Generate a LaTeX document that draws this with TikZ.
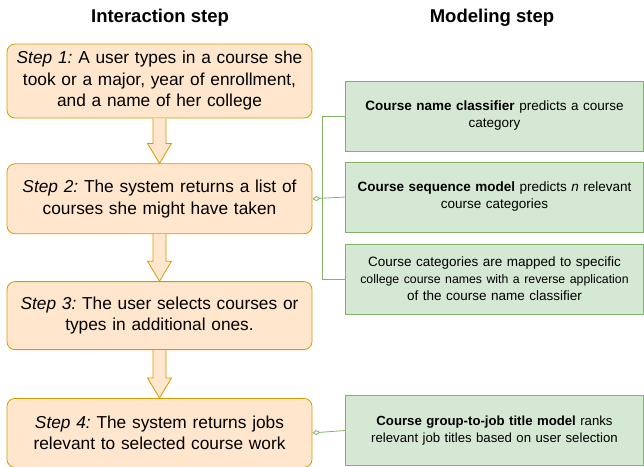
\documentclass[tikz,border=0pt]{standalone}
\usepackage{fontspec}
\setmainfont{Liberation Sans}
\usepackage{tikz}
\usetikzlibrary{positioning}
\usetikzlibrary{calc}
\usetikzlibrary{arrows.meta}
\frenchspacing

\definecolor{stepfill}{HTML}{FFE6CC}
\definecolor{stepline}{HTML}{D79B00}
\definecolor{modelfill}{HTML}{D5E8D4}
\definecolor{modelline}{HTML}{82B366}

\newcommand{\flowarrow}[2]{%
  \draw[stepline,fill=stepfill,line width=0.8pt,line join=miter]
    ($(#1.south)+(-6.5,0)$) -- ($(#2.north)+(-6.5,-20)$) -- ($(#2.north)+(-12,-20)$)
    -- (#2.north) -- ($(#2.north)+(12,-20)$) -- ($(#2.north)+(6.5,-20)$) -- ($(#1.south)+(6.5,0)$);}

\begin{document}
\begin{tikzpicture}[x=1pt,y=-1pt,
  stepbox/.style={draw=stepline,fill=stepfill,line width=0.8pt,rounded corners=8pt,
    minimum width=305pt,minimum height=70pt,text width=298pt,align=center,
    inner sep=0pt,font=\fontsize{17.3}{21.5}\selectfont},
  modelbox/.style={draw=modelline,fill=modelfill,line width=0.8pt,
    minimum width=298pt,minimum height=70pt,text width=298pt,align=center,
    inner sep=0pt,font=\fontsize{13.5}{17}\selectfont},
  headline/.style={font=\bfseries\fontsize{18.5}{20}\selectfont},
  link/.style={modelline,line width=0.8pt,{Diamond[open,length=8pt,width=5pt]}-}]
\useasboundingbox (0,0) rectangle (644,466);

\node[headline] (h1) at (160,18) {Interaction step};
\node[headline] (h2) at (492,18) {Modeling step};

\node[stepbox,minimum height=74pt] (s1) at (159.5,81)
  {\textit{Step 1:} A user types in a course she\\ took or a major, year of enrollment,\\ and a name of her college};
\node[stepbox]                  (s2) [below=45pt of s1]
  {\textit{Step 2:} The system returns a list of\\ courses she might have taken};
\node[stepbox,minimum height=68pt] (s3) [below=47pt of s2]
  {\textit{Step 3:} The user selects courses or\\ types in additional ones.};
\node[stepbox,minimum height=69pt] (s4) [below=48pt of s3]
  {\textit{Step 4:} The system returns jobs\\ relevant to selected course work};

\node[modelbox] (m1) at (494.5,116)
  {\textbf{Course name classifier} predicts a course\\ category};
\node[modelbox] (m2) at (494.5,197)
  {\textbf{Course sequence model} predicts \textit{n} relevant\\ course categories};
\node[modelbox] (m3) at (494.5,279)
  {Course categories are mapped to specific\\
   {\fontsize{12.3}{17}\selectfont college course names with a reverse application}\\
   of the course name classifier};
\node[modelbox,font=\fontsize{13.2}{17}\selectfont] (m4) at (494.5,430.5)
  {\textbf{Course group-to-job title model} ranks\\ relevant job titles based on user selection};

\flowarrow{s1}{s2}
\flowarrow{s2}{s3}
\flowarrow{s3}{s4}

\draw[modelline,line width=0.8pt] (m1.west) -- ++(-23,0) |- (m3.west);
\draw[link] (s2.east) -- (m2.west);
\draw[link] (s4.east) -- (m4.west);

\end{tikzpicture}
\end{document}
